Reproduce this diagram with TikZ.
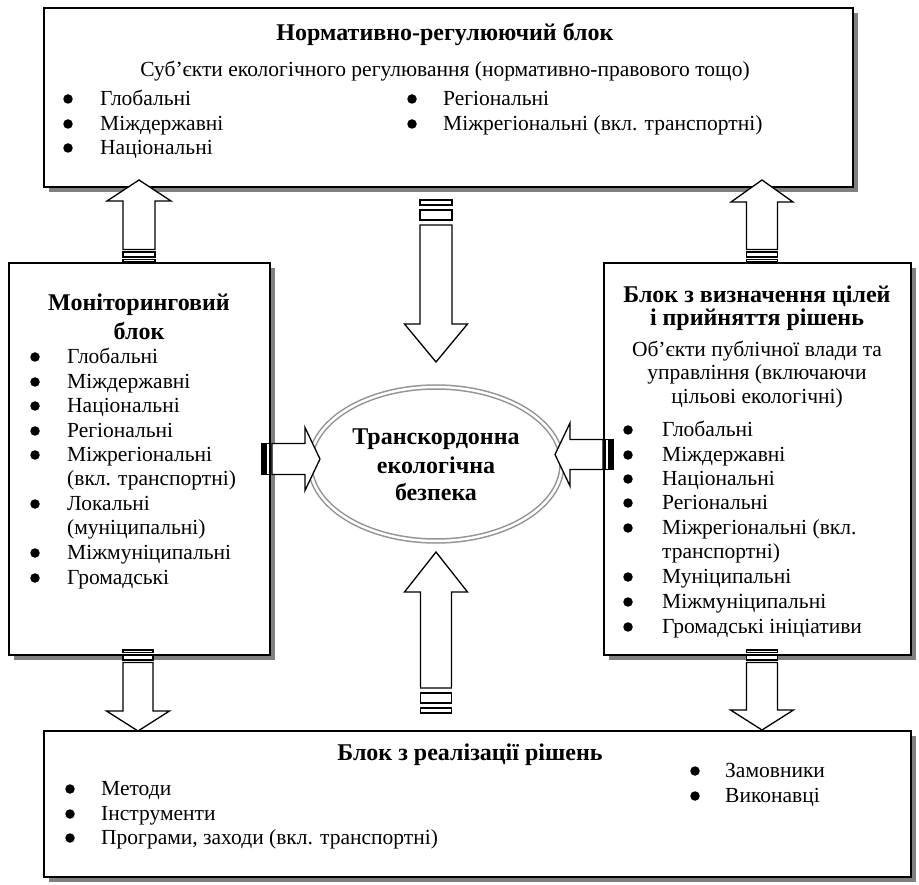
\documentclass[tikz,border=0pt]{standalone}
\usepackage{fontspec}
\setmainfont{Liberation Serif}
\usetikzlibrary{shapes.geometric,shadows}

\tikzset{
 box/.style={draw, line width=1.6pt, fill=white, anchor=north west, inner sep=0pt,
   drop shadow={shadow xshift=5pt, shadow yshift=-5pt, fill=black!50, opacity=1}},
 arr/.style={draw, fill=white, line width=1.3pt, line join=miter},
 txt/.style={inner sep=0pt, font=\fontsize{21.5}{24}\selectfont},
 ttl/.style={inner sep=0pt, font=\fontsize{24}{28}\selectfont\bfseries},
 bulnode/.style={circle, fill=black, inner sep=0pt, minimum size=9.5pt},
}

\newcounter{itm}
% bullet item: bullet x, text x, centre y, text
\newcommand{\bitem}[4]{\stepcounter{itm}\edef\nma{i\arabic{itm}}\edef\nmb{i\arabic{itm}b}%
  \node[bulnode] (\nmb) at (#1,#3) {};
  \node[txt,anchor=base west] (\nma) at (#2,#3+6.5) {#4};}
% continuation line: text x, centre y, text
\newcommand{\citem}[3]{\stepcounter{itm}\edef\nma{i\arabic{itm}}%
  \node[txt,anchor=base west] (\nma) at (#1,#2+6.5) {#3};}

% vertical striped arrow: x, tail y, tip y, shaft hw, head hw, head length, stripe unit
\newcommand{\varrow}[7]{%
  \pgfmathsetmacro{\adir}{(#3>#2)?1:-1}
  \pgfmathsetmacro{\ya}{#2+\adir*#7}
  \pgfmathsetmacro{\yb}{#2+\adir*2*#7}
  \pgfmathsetmacro{\yc}{#2+\adir*4*#7}
  \pgfmathsetmacro{\ys}{#2+\adir*5*#7}
  \pgfmathsetmacro{\yh}{#3-\adir*#6}
  \draw[arr] (#1-#4,#2) rectangle (#1+#4,\ya);
  \draw[arr] (#1-#4,\yb) rectangle (#1+#4,\yc);
  \draw[arr] (#1-#4,\ys) -- (#1-#4,\yh) -- (#1-#5,\yh) -- (#1,#3) -- (#1+#5,\yh) -- (#1+#4,\yh) -- (#1+#4,\ys) -- cycle;
}
% horizontal striped arrow: y, tail x, tip x, shaft hw, head hw, head length, stripe unit
\newcommand{\harrow}[7]{%
  \pgfmathsetmacro{\adir}{(#3>#2)?1:-1}
  \pgfmathsetmacro{\xa}{#2+\adir*#7}
  \pgfmathsetmacro{\xb}{#2+\adir*2*#7}
  \pgfmathsetmacro{\xc}{#2+\adir*4*#7}
  \pgfmathsetmacro{\xs}{#2+\adir*5*#7}
  \pgfmathsetmacro{\xh}{#3-\adir*#6}
  \draw[arr] (#2,#1-#4) rectangle (\xa,#1+#4);
  \draw[arr] (\xb,#1-#4) rectangle (\xc,#1+#4);
  \draw[arr] (\xs,#1-#4) -- (\xh,#1-#4) -- (\xh,#1-#5) -- (#3,#1) -- (\xh,#1+#5) -- (\xh,#1+#4) -- (\xs,#1+#4) -- cycle;
}

\begin{document}
\begin{tikzpicture}[x=1pt,y=-1pt]
\useasboundingbox[fill=white] (0,0) rectangle (919,885);

% boxes
\node[box, minimum width=809pt, minimum height=179pt] (reg) at (43,7) {};
\node[box, minimum width=261pt, minimum height=392pt] (mon) at (8,262) {};
\node[box, minimum width=307pt, minimum height=392pt] (dec) at (603,262) {};
\node[box, minimum width=867pt, minimum height=146pt] (imp) at (43,730) {};

% central ellipse
\node[ellipse, draw=black!42, double=white, double distance=2.5pt, line width=1.5pt,
      minimum width=252pt, minimum height=154pt, inner sep=0pt] (tb) at (436,464) {};
\node[ttl, anchor=base] (tb1) at (436,445) {Транскордонна};
\node[ttl, anchor=base] (tb2) at (436,473) {екологічна};
\node[ttl, anchor=base] (tb3) at (436,500) {безпека};

% arrows
\varrow{139}{262}{180}{16}{32}{21}{2.5}
\varrow{762}{262}{180}{15.5}{31}{22}{2.5}
\varrow{436}{200}{362}{16}{31.5}{38}{5}
\varrow{436}{713}{552}{15.5}{31.5}{40}{5}
\varrow{138}{650}{731}{15}{31.5}{20}{2.5}
\varrow{762}{650}{730}{15.5}{31.5}{20}{2.5}
\harrow{459}{262}{320}{15.5}{31.5}{15}{2}
\harrow{454.5}{613}{555}{15}{31.5}{15}{2}

% top box text
\node[ttl, anchor=base] (regt) at (445,41) {Нормативно-регулюючий блок};
\node[txt, anchor=base] (regs) at (445,76.5) {Суб’єкти екологічного регулювання (нормативно-правового тощо)};
\bitem{68}{100}{99}{Глобальні}
\bitem{68}{100}{124}{Міждержавні}
\bitem{68}{100}{148}{Національні}
\bitem{412}{443}{99}{Регіональні}
\bitem{412}{443}{124}{Міжрегіональні (вкл. транспортні)}

% left box text
\node[ttl, anchor=base] (mont1) at (139,311) {Моніторинговий};
\node[ttl, anchor=base] (mont2) at (139,340) {блок};
\bitem{35}{67}{357}{Глобальні}
\bitem{35}{67}{382}{Міждержавні}
\bitem{35}{67}{406}{Національні}
\bitem{35}{67}{431}{Регіональні}
\bitem{35}{67}{455}{Міжрегіональні}
\citem{67}{479}{(вкл. транспортні)}
\bitem{35}{67}{504}{Локальні}
\citem{67}{528}{(муніципальні)}
\bitem{35}{67}{553}{Міжмуніципальні}
\bitem{35}{67}{578}{Громадські}

% right box text
\node[ttl, anchor=base] (dect1) at (757,303) {Блок з визначення цілей};
\node[ttl, anchor=base] (dect2) at (757,326) {і прийняття рішень};
\node[txt, anchor=base] (decs1) at (757,356.5) {Об’єкти публічної влади та};
\node[txt, anchor=base] (decs2) at (757,379.5) {управління (включаючи};
\node[txt, anchor=base] (decs3) at (757,403.5) {цільові екологічні)};
\bitem{628}{662}{430}{Глобальні}
\bitem{628}{662}{455}{Міждержавні}
\bitem{628}{662}{479}{Національні}
\bitem{628}{662}{503}{Регіональні}
\bitem{628}{662}{528}{Міжрегіональні (вкл.}
\citem{662}{552}{транспортні)}
\bitem{628}{662}{577}{Муніципальні}
\bitem{628}{662}{602}{Міжмуніципальні}
\bitem{628}{662}{627}{Громадські ініціативи}

% bottom box text
\node[ttl, anchor=base] (impt) at (470,760) {Блок з реалізації рішень};
\bitem{70}{101}{789}{Методи}
\bitem{70}{101}{814}{Інструменти}
\bitem{70}{101}{838}{Програми, заходи (вкл. транспортні)}
\bitem{695}{725}{771}{Замовники}
\bitem{695}{725}{796}{Виконавці}
\end{tikzpicture}
\end{document}
